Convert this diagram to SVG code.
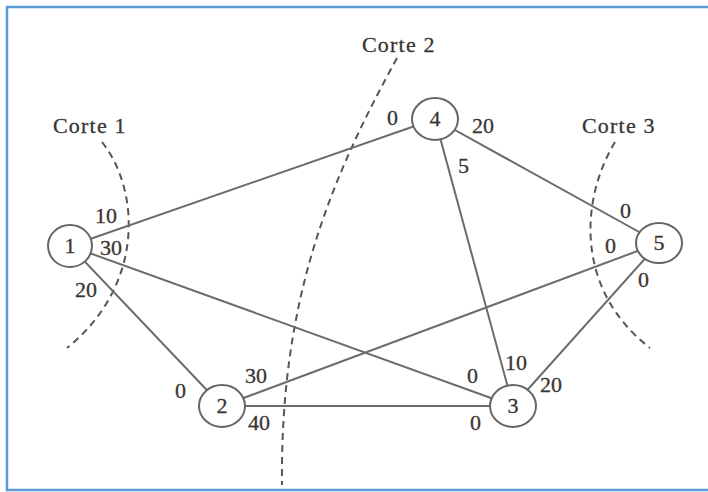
<svg xmlns="http://www.w3.org/2000/svg" width="708" height="492" viewBox="0 0 708 492">
  <style>
    .edge { stroke: #6b6b6b; stroke-width: 2; fill: none; }
    .cut { stroke: #555; stroke-width: 2; fill: none; stroke-dasharray: 7 5; }
    .node ellipse { fill: #fff; stroke: #666; stroke-width: 2; }
    text { font-family: "Liberation Serif", "Times New Roman", serif; font-size: 22px; fill: #3a3530; stroke: #3a3530; stroke-width: 0.3px; }
    .lbl { letter-spacing: 1.2px; }
    .mid { text-anchor: middle; }
  </style>
  <rect x="0" y="0" width="708" height="492" fill="#fff"/>
  <rect x="7" y="7" width="720" height="483" fill="none" stroke="#5b9bd5" stroke-width="2.5"/>

  <!-- cut lines -->
  <g id="cuts">
    <path class="cut" d="M102,142 C140,190 145,285 67,348"/>
    <path class="cut" d="M397,58 C330,180 280,300 282,485"/>
    <path class="cut" d="M615,142 C580,200 575,290 650,348"/>
    <text class="lbl" x="53" y="133">Corte 1</text>
    <text class="lbl" x="362" y="52">Corte 2</text>
    <text class="lbl" x="582" y="133">Corte 3</text>
  </g>

  <!-- connectors -->
  <g id="edges">
    <line class="edge" x1="70" y1="246" x2="435" y2="119"/>
    <line class="edge" x1="70" y1="246" x2="513" y2="406"/>
    <line class="edge" x1="70" y1="246" x2="222" y2="406"/>
    <line class="edge" x1="435" y1="119" x2="659" y2="243"/>
    <line class="edge" x1="435" y1="119" x2="513" y2="406"/>
    <line class="edge" x1="659" y1="243" x2="222" y2="406"/>
    <line class="edge" x1="659" y1="243" x2="513" y2="406"/>
    <line class="edge" x1="222" y1="406" x2="513" y2="406"/>
  </g>

  <!-- capacity labels -->
  <g id="capacities">
    <text x="95" y="223">10</text>
    <text x="100" y="255">30</text>
    <text x="75" y="297">20</text>
    <text x="387" y="125">0</text>
    <text x="472" y="133">20</text>
    <text x="458" y="173">5</text>
    <text x="620" y="218">0</text>
    <text x="605" y="253">0</text>
    <text x="638" y="287">0</text>
    <text x="175" y="398">0</text>
    <text x="245" y="383">30</text>
    <text x="248" y="430">40</text>
    <text x="467" y="383">0</text>
    <text x="470" y="430">0</text>
    <text x="505" y="370">10</text>
    <text x="540" y="392">20</text>
  </g>

  <g id="node1" class="node"><ellipse cx="70" cy="246" rx="22" ry="21"/><text class="mid" x="70" y="253">1</text></g>
  <g id="node2" class="node"><ellipse cx="222" cy="406" rx="23" ry="21"/><text class="mid" x="222" y="413">2</text></g>
  <g id="node3" class="node"><ellipse cx="513" cy="406" rx="23" ry="21"/><text class="mid" x="513" y="413">3</text></g>
  <g id="node4" class="node"><ellipse cx="435" cy="119" rx="23" ry="21"/><text class="mid" x="435" y="126">4</text></g>
  <g id="node5" class="node"><ellipse cx="659" cy="243" rx="23" ry="20"/><text class="mid" x="659" y="250">5</text></g>
</svg>
